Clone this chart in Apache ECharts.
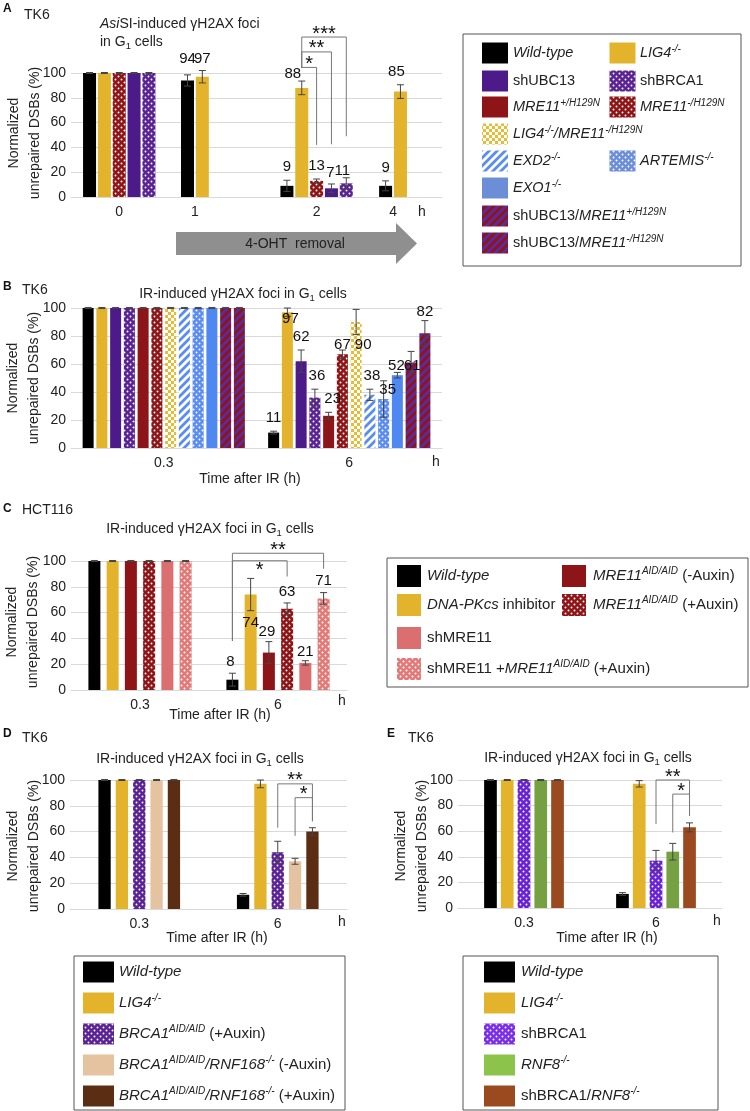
<!DOCTYPE html>
<html><head><meta charset="utf-8">
<script src="https://cdn.jsdelivr.net/npm/echarts@6/dist/echarts.min.js"></script>
<style>html,body{margin:0;padding:0;background:#fff}#c{width:750px;height:1111px}</style>
</head><body><div id="c"></div>
<script>
// ================= DATA =================
// Panel A (TK6, AsiSI)
const aTimeLabels = ['0', '1', '2', '4'];
const aGroupKeys = [
  ['wt', 'lig4', 'mreMinusDot', 'ubc13', 'brca1Dot'],
  ['wt', 'lig4'],
  ['wt', 'lig4', 'mreMinusDot', 'ubc13', 'brca1Dot'],
  ['wt', 'lig4']
];
const aValues = [[100, 100, 100, 100, 100], [94, 97], [9, 88, 13, 7, 11], [9, 85]];
const aErrors = [[0.4, 0.4, 0.4, 0.4, 0.4], [4.5, 5], [4.5, 5.5, 1.5, 3.5, 4.5], [4, 5.5]];
const aShowLabels = [false, true, true, true];

// Panel B (TK6, IR)
const bTimeLabels = ['0.3', '6'];
const bKeys = ['wt', 'lig4', 'ubc13', 'brca1Dot', 'mrePlus', 'mreMinusDot', 'lig4Mre', 'exd2', 'artemis', 'exo1', 'ubcMrePlus', 'ubcMreMinus'];
const bValues03 = [100, 100, 100, 100, 100, 100, 100, 100, 100, 100, 100, 100];
const bValues6 = [11, 97, 62, 36, 23, 67, 90, 38, 35, 52, 61, 82];
const bErrors03 = [0.4, 0.4, 0.4, 0.4, 0.4, 0.4, 0.4, 0.4, 0.4, 0.4, 0.4, 0.4];
const bErrors6 = [1, 3, 8, 6, 2.5, 3, 9, 4, 13, 2, 8, 9];

// Panel C (HCT116, IR)
const cTimeLabels = ['0.3', '6'];
const cKeys = ['wt', 'dnapk', 'mreAidMinus', 'mreAidPlus', 'shMre', 'shMreAid'];
const cValues03 = [100, 100, 100, 100, 100, 100];
const cValues6 = [8, 74, 29, 63, 21, 71];
const cErrors03 = [0.4, 0.4, 0.4, 0.4, 0.4, 0.4];
const cErrors6 = [5, 12.5, 8.5, 4.5, 1.7, 4.5];

// Panel D (TK6, IR)
const dTimeLabels = ['0.3', '6'];
const dKeys = ['wt', 'lig4', 'brca1Aid', 'brcaRnfMinus', 'brcaRnfPlus'];
const dValues03 = [100, 100, 100, 100, 100];
const dValues6 = [11, 97, 44, 37, 60];
const dErrors03 = [0.4, 0.4, 0.4, 0.4, 0.4];
const dErrors6 = [1, 3, 8.5, 2.3, 3];

// Panel E (TK6, IR)
const eTimeLabels = ['0.3', '6'];
const eKeys = ['wt', 'lig4', 'shBrca1E', 'rnf8', 'shBrcaRnf8'];
const eValues03 = [100, 100, 100, 100, 100];
const eValues6 = [11, 97, 37, 44, 63];
const eErrors03 = [0.4, 0.4, 0.4, 0.4, 0.4];
const eErrors6 = [1, 2.5, 8, 6.5, 3.5];

// significance brackets (group, bar indices, y values in %)
const aBrackets = [
  { g: 2, from: 1, to: 4, top: 129, fromY: 104, toY: 49, star: '***' },
  { g: 2, from: 1, to: 3, top: 117, fromY: 104, toY: 42.5, star: '**' },
  { g: 2, from: 1, to: 2, top: 104.5, fromY: 104, toY: 42, star: '*' }
];
const cBrackets = [
  { g: 1, from: 0, to: 5, top: 106, fromY: 38, toY: 94, star: '**' },
  { g: 1, from: 0, to: 3, top: 100.2, fromY: 38, toY: 88, star: '*', below: true }
];
const dBrackets = [
  { g: 1, from: 2, to: 4, top: 97, fromY: 63, toY: 68, star: '**' },
  { g: 1, from: 3, to: 4, top: 86.3, fromY: 56.7, toY: 68, star: '*' }
];
const eBrackets = [
  { g: 1, from: 2, to: 4, top: 100, fromY: 65.6, toY: 72, star: '**' },
  { g: 1, from: 3, to: 4, top: 89, fromY: 59, toY: 72, star: '*' }
];

// ================= STYLE / LAYOUT =================
const F = '"Liberation Sans", Arial, Helvetica, sans-serif';

function pat(bg, fg, type) {
  const c = document.createElement('canvas');
  const g = c.getContext('2d');
  let s;
  if (type === 'dot') {
    s = 6; c.width = c.height = s;
    g.fillStyle = bg; g.fillRect(0, 0, s, s);
    g.fillStyle = fg;
    [[1.5, 1.5], [4.5, 4.5]].forEach(p => { g.beginPath(); g.arc(p[0], p[1], 0.95, 0, Math.PI * 2); g.fill(); });
  } else if (type === 'check') {
    s = 6; c.width = c.height = s;
    g.fillStyle = bg; g.fillRect(0, 0, s, s);
    g.fillStyle = fg; g.fillRect(0, 0, 3, 3); g.fillRect(3, 3, 3, 3);
  } else {
    s = 8; c.width = c.height = s;
    g.fillStyle = bg; g.fillRect(0, 0, s, s);
    g.strokeStyle = fg; g.lineWidth = 2.8;
    [0, s, 2 * s].forEach(k => { g.beginPath(); g.moveTo(-1, k + 1); g.lineTo(k + 1, -1); g.stroke(); });
  }
  return { image: c, repeat: 'repeat' };
}

const fills = {
  wt: '#000000',
  lig4: '#E3B42B',
  ubc13: '#4D1A8A',
  brca1Dot: pat('#5A2293', '#ffffff', 'dot'),
  mrePlus: '#8E1517',
  mreMinusDot: pat('#8E1517', '#ffffff', 'dot'),
  lig4Mre: pat('#ffffff', '#E8BB35', 'check'),
  exd2: pat('#ffffff', '#5B8DF0', 'stripe'),
  artemis: pat('#5B8DF0', '#ffffff', 'dot'),
  exo1: '#5088F2',
  ubcMrePlus: pat('#8E1517', '#5A2AA0', 'stripe'),
  ubcMreMinus: pat('#5A2AA0', '#8E1517', 'stripe'),
  dnapk: '#E3B42B',
  mreAidMinus: '#8E1517',
  mreAidPlus: pat('#8E1517', '#ffffff', 'dot'),
  shMre: '#DB6E6E',
  shMreAid: pat('#E07A78', '#ffffff', 'dot'),
  brca1Aid: pat('#5A2293', '#ffffff', 'dot'),
  brcaRnfMinus: '#E6C3A0',
  brcaRnfPlus: '#5B2E14',
  shBrca1E: pat('#6A22D0', '#ffffff', 'dot'),
  rnf8: '#76A142',
  shBrcaRnf8: '#9A4A1E'
};
const legendFillOverride = { exo1: '#6B8ED6', artemis: pat('#6B8ED6', '#ffffff', 'dot'), rnf8: '#8CC34A', shBrca1E: pat('#7A2EE6', '#ffffff', 'dot') };

const grids = [
  { left: 71, top: 73, width: 371, height: 124 },
  { left: 71, top: 308, width: 371, height: 140 },
  { left: 71, top: 561, width: 276, height: 129 },
  { left: 70, top: 780, width: 277, height: 129 },
  { left: 458, top: 780, width: 264, height: 128 }
];
const A_CENTERS = [3.25, 8.35, 16.55, 21.7];   // group centres on A's x scale (unit = one bar step)
const A_XMAX = 25;
const barGeom = [
  { bw: 13 },
  { bw: 11, gap: 0.25 },
  { bw: 12, gap: 0.52 },
  { bw: 12.3, gap: 0.41 },
  { bw: 12.7, gap: 0.32 }
];
// label nudges (px), label gap above error bar top (px)
const aNudge = [[], [[0, -3], [0, 1]], [[0, 0], [-9, 6], [0, 0], [-1, 2], [-4, 6]], [[0, 0], [-4, 0]]];
const bNudge = [[0, 0], [3, 24], [0, 0], [2, 0], [4, 0], [0, 8], [7, 48], [2, 0], [4, 22], [-1, 6], [1, 27], [0, 4]];
const cNudge = [[-2, 0], [0, 55], [-2, 1], [0, 0], [0, 2], [0, -1]];
const LABEL_GAP = [13, 13, 11, 13, 13];

function richSet(fs, ss) {
  return {
    n: { fontFamily: F, fontSize: fs, fill: '#222', lineHeight: fs + 4 },
    i: { fontFamily: F, fontSize: fs, fill: '#222', fontStyle: 'italic', lineHeight: fs + 4 },
    s: { fontFamily: F, fontSize: ss, fill: '#222', fontStyle: 'italic', verticalAlign: 'top', lineHeight: ss + 2 },
    sub: { fontFamily: F, fontSize: ss, fill: '#222', verticalAlign: 'bottom', lineHeight: ss + 2 },
    b: { fontFamily: F, fontSize: 12, fill: '#111', fontWeight: 'bold', lineHeight: 14 }
  };
}
const RICH = richSet(14, 9.5);
const RICH_L = richSet(15, 10);

// ================= BUILD =================
const series = [];
const xAxes = [], yAxes = [];

grids.forEach((g, p) => {
  yAxes.push({
    type: 'value', gridIndex: p, min: 0, max: 100, interval: 20,
    axisLine: { show: false }, axisTick: { show: false },
    axisLabel: { fontSize: 14, color: '#222', margin: 5, fontFamily: F },
    splitLine: { show: true, lineStyle: { color: '#d9d9d9', width: 1 } }
  });
});

// A axes
xAxes.push({
  type: 'value', gridIndex: 0, min: 0, max: A_XMAX,
  axisLine: { show: true, onZero: false, lineStyle: { color: '#d9d9d9' } },
  axisTick: { show: false }, splitLine: { show: false },
  axisLabel: {
    customValues: A_CENTERS, fontSize: 14, color: '#222', margin: 8, fontFamily: F,
    formatter: v => { const i = A_CENTERS.findIndex(c => Math.abs(c - v) < 1e-6); return i >= 0 ? aTimeLabels[i] : ''; }
  }
});
[bTimeLabels, cTimeLabels, dTimeLabels, eTimeLabels].forEach((cats, k) => {
  xAxes.push({
    type: 'category', gridIndex: k + 1, data: cats,
    axisLine: { show: true, lineStyle: { color: '#d9d9d9' } },
    axisTick: { show: false }, splitLine: { show: false },
    axisLabel: { fontSize: 14, color: '#222', margin: 8, interval: 0, fontFamily: F }
  });
});

// A bars (value x axis)
const aItems = [];
aGroupKeys.forEach((keys, g) => {
  const n = keys.length;
  keys.forEach((k, i) => {
    const nd = (aNudge[g] && aNudge[g][i]) || [0, 0];
    aItems.push({ g, i, key: k, xv: A_CENTERS[g] + (i - (n - 1) / 2), off: 0,
      y: aValues[g][i], err: aErrors[g][i], label: aShowLabels[g] ? String(aValues[g][i]) : null, dx: nd[0], dy: nd[1] });
  });
});
series.push({
  type: 'bar', xAxisIndex: 0, yAxisIndex: 0, barWidth: barGeom[0].bw, silent: true,
  data: aItems.map(it => ({ value: [it.xv, it.y], itemStyle: { color: fills[it.key] } }))
});

// category panels
const catPanels = [
  { p: 1, keys: bKeys, vals: [bValues03, bValues6], errs: [bErrors03, bErrors6], labels: true, nudge: bNudge },
  { p: 2, keys: cKeys, vals: [cValues03, cValues6], errs: [cErrors03, cErrors6], labels: true, nudge: cNudge },
  { p: 3, keys: dKeys, vals: [dValues03, dValues6], errs: [dErrors03, dErrors6], labels: false },
  { p: 4, keys: eKeys, vals: [eValues03, eValues6], errs: [eErrors03, eErrors6], labels: false }
];
const panelItems = { 0: aItems };
catPanels.forEach(cp => {
  const gm = barGeom[cp.p];
  const n = cp.keys.length;
  const step = gm.bw * (1 + gm.gap);
  cp.keys.forEach((k, i) => {
    series.push({
      type: 'bar', xAxisIndex: cp.p, yAxisIndex: cp.p, barWidth: gm.bw, barGap: (gm.gap * 100) + '%',
      silent: true, itemStyle: { color: fills[k] }, data: [cp.vals[0][i], cp.vals[1][i]]
    });
  });
  const items = [];
  [0, 1].forEach(g => {
    cp.keys.forEach((k, i) => {
      const nd = (g === 1 && cp.nudge) ? cp.nudge[i] : [0, 0];
      items.push({ g, i, key: k, xv: g, off: (i - (n - 1) / 2) * step, y: cp.vals[g][i], err: cp.errs[g][i],
        label: (cp.labels && g === 1) ? String(cp.vals[g][i]) : null, dx: nd[0], dy: nd[1] });
    });
  });
  panelItems[cp.p] = items;
});

// error bars + value labels
Object.keys(panelItems).forEach(pk => {
  const p = +pk, items = panelItems[p];
  series.push({
    type: 'custom', xAxisIndex: p, yAxisIndex: p, silent: true, z: 10, clip: false,
    data: items.map(it => [it.xv, it.y]),
    renderItem: (params, api) => {
      const it = items[params.dataIndex];
      const x = api.coord([it.xv, it.y])[0] + it.off;
      const yT = api.coord([it.xv, it.y + it.err])[1];
      const yB = api.coord([it.xv, Math.max(0, it.y - it.err)])[1];
      const ls = { stroke: '#444', lineWidth: 1 };
      const ch = [
        { type: 'line', shape: { x1: x, y1: yT, x2: x, y2: yB }, style: ls },
        { type: 'line', shape: { x1: x - 3.5, y1: yT, x2: x + 3.5, y2: yT }, style: ls },
        { type: 'line', shape: { x1: x - 3.5, y1: yB, x2: x + 3.5, y2: yB }, style: ls }
      ];
      if (it.label) ch.push({ type: 'text', x: x + it.dx, y: yT - LABEL_GAP[p] + it.dy,
        style: { text: it.label, fontFamily: F, fontSize: 15, fill: '#111', align: 'center', verticalAlign: 'middle' } });
      return { type: 'group', children: ch };
    }
  });
});

// brackets
function barPx(api, p, g, i) {
  const it = panelItems[p].find(o => o.g === g && o.i === i);
  return { x: api.coord([it.xv, 0])[0] + it.off, xv: it.xv };
}
[[0, aBrackets], [2, cBrackets], [3, dBrackets], [4, eBrackets]].forEach(([p, list]) => {
  series.push({
    type: 'custom', xAxisIndex: p, yAxisIndex: p, silent: true, z: 12, clip: false,
    data: list.map(b => [b.g, b.fromY]),
    renderItem: (params, api) => {
      const b = list[params.dataIndex];
      const L = barPx(api, p, b.g, b.from), R = barPx(api, p, b.g, b.to);
      const yv = v => api.coord([L.xv, v])[1];
      const yT = yv(b.top);
      const ls = { stroke: '#777', lineWidth: 1, fill: null };
      return { type: 'group', children: [
        { type: 'polyline', shape: { points: [[L.x, yv(b.fromY)], [L.x, yT], [R.x, yT], [R.x, yv(b.toY)]] }, style: ls },
        { type: 'text', x: (L.x + R.x) / 2 + (b.dx || 0), y: b.below ? yT + 0 : yT - 13,
          style: { text: b.star, fontFamily: F, fontSize: 20, fill: '#111', align: 'center', verticalAlign: 'top' } }
      ] };
    }
  });
});

// ================= TEXT / LEGENDS =================
const graphics = [];
function txt(x, y, text, o) {
  o = o || {};
  graphics.push({ type: 'text', x, y, rotation: o.rot || 0, silent: true, z: 100,
    style: Object.assign({ text, fontFamily: F, fontSize: 14, fill: '#222', align: o.align || 'left', verticalAlign: 'middle', rich: o.rich || RICH }, o.style || {}) });
}
const TITLE_IR = '{n|IR-induced γH2AX foci in G}{sub|1}{n| cells}';
// panel letters and cell lines
txt(3, 9, '{b|A}'); txt(24, 15, 'TK6');
txt(3, 287, '{b|B}'); txt(22, 290, 'TK6');
txt(3, 509, '{b|C}'); txt(22, 510, 'HCT116');
txt(3, 734, '{b|D}'); txt(22, 738, 'TK6');
txt(387, 734, '{b|E}'); txt(408, 738, 'TK6');
// titles
txt(100, 24, '{i|Asi}{n|SI-induced γH2AX foci}');
txt(100, 42, '{n|in G}{sub|1}{n| cells}');
txt(243, 294, TITLE_IR, { align: 'center' });
txt(210, 529, TITLE_IR, { align: 'center' });
txt(200, 759, TITLE_IR, { align: 'center' });
txt(588, 758, TITLE_IR, { align: 'center' });
// y-axis names
[[25, 133], [24, 378], [23, 622], [24, 846], [412, 846]].forEach(([x, y]) => {
  txt(x, y, 'Normalized\nunrepaired DSBs (%)', { rot: Math.PI / 2, align: 'center', style: { lineHeight: 21 } });
});
// "h" units and x-axis titles
[[422, 212], [436, 462], [342, 701], [342, 922], [717, 921]].forEach(([x, y]) => txt(x, y, 'h', { align: 'center' }));
[[250, 479], [220, 715], [217, 938], [607, 938]].forEach(([x, y]) => txt(x, y, 'Time after IR (h)', { align: 'center' }));

// 4-OHT removal arrow
graphics.push({ type: 'polygon', silent: true, z: 5,
  shape: { points: [[176, 232], [396, 232], [396, 223], [417, 243.5], [396, 264], [396, 255], [176, 255]] },
  style: { fill: '#8f8f8f' } });
txt(295, 244, '4-OHT  removal', { align: 'center' });

function legend(box, swW, swH, rows, entries, rich) {
  graphics.push({ type: 'rect', silent: true, z: 90, shape: { x: box[0], y: box[1], width: box[2], height: box[3] },
    style: { fill: null, stroke: '#555', lineWidth: 1 } });
  entries.forEach(e => {
    const y = rows[e.row];
    graphics.push({ type: 'rect', silent: true, z: 95, shape: { x: e.sx, y: y - swH / 2, width: swW, height: swH },
      style: { fill: legendFillOverride[e.key] || fills[e.key] } });
    txt(e.tx, y, e.text, { rich });
  });
}
// A legend
(function () {
  const c1 = { sx: 482, tx: 513 }, c2 = { sx: 609.5, tx: 640 };
  const E = (c, row, key, text) => ({ sx: c.sx, tx: c.tx, row, key, text });
  legend([463, 34, 278, 232], 26, 21, [53, 81, 107, 134, 161, 188, 216, 243], [
    E(c1, 0, 'wt', '{i|Wild-type}'), E(c2, 0, 'lig4', '{i|LIG4}{s|-/-}'),
    E(c1, 1, 'ubc13', '{n|shUBC13}'), E(c2, 1, 'brca1Dot', '{n|shBRCA1}'),
    E(c1, 2, 'mrePlus', '{i|MRE11}{s|+/H129N}'), E(c2, 2, 'mreMinusDot', '{i|MRE11}{s|-/H129N}'),
    E(c1, 3, 'lig4Mre', '{i|LIG4}{s|-/-}{i|/MRE11}{s|-/H129N}'),
    E(c1, 4, 'exd2', '{i|EXD2}{s|-/-}'), E(c2, 4, 'artemis', '{i|ARTEMIS}{s|-/-}'),
    E(c1, 5, 'exo1', '{i|EXO1}{s|-/-}'),
    E(c1, 6, 'ubcMrePlus', '{n|shUBC13/}{i|MRE11}{s|+/H129N}'),
    E(c1, 7, 'ubcMreMinus', '{n|shUBC13/}{i|MRE11}{s|-/H129N}')
  ], richSet(14.5, 10));
})();
// C legend
(function () {
  const c1 = { sx: 397, tx: 427 }, c2 = { sx: 562, tx: 593 };
  const E = (c, row, key, text) => ({ sx: c.sx, tx: c.tx, row, key, text });
  legend([387, 558, 361, 129], 24, 22, [576, 605, 638, 669], [
    E(c1, 0, 'wt', '{i|Wild-type}'), E(c2, 0, 'mreAidMinus', '{i|MRE11}{s|AID/AID}{n| (-Auxin)}'),
    E(c1, 1, 'dnapk', '{i|DNA-PKcs}{n| inhibitor}'), E(c2, 1, 'mreAidPlus', '{i|MRE11}{s|AID/AID}{n| (+Auxin)}'),
    E(c1, 2, 'shMre', '{n|shMRE11}'),
    E(c1, 3, 'shMreAid', '{n|shMRE11 +}{i|MRE11}{s|AID/AID}{n| (+Auxin)}')
  ], RICH_L);
})();
// D legend
(function () {
  const c1 = { sx: 83, tx: 119 };
  const E = (row, key, text) => ({ sx: c1.sx, tx: c1.tx, row, key, text });
  legend([74, 956, 271, 154], 31, 21, [972, 1003, 1034, 1065, 1096], [
    E(0, 'wt', '{i|Wild-type}'), E(1, 'lig4', '{i|LIG4}{s|-/-}'),
    E(2, 'brca1Aid', '{i|BRCA1}{s|AID/AID}{n| (+Auxin)}'),
    E(3, 'brcaRnfMinus', '{i|BRCA1}{s|AID/AID}{i|/RNF168}{s|-/-}{n| (-Auxin)}'),
    E(4, 'brcaRnfPlus', '{i|BRCA1}{s|AID/AID}{i|/RNF168}{s|-/-}{n| (+Auxin)}')
  ], RICH_L);
})();
// E legend
(function () {
  const c1 = { sx: 484, tx: 521 };
  const E = (row, key, text) => ({ sx: c1.sx, tx: c1.tx, row, key, text });
  legend([463, 956, 255, 154], 31, 21, [972, 1003, 1034, 1065, 1096], [
    E(0, 'wt', '{i|Wild-type}'), E(1, 'lig4', '{i|LIG4}{s|-/-}'),
    E(2, 'shBrca1E', '{n|shBRCA1}'), E(3, 'rnf8', '{i|RNF8}{s|-/-}'),
    E(4, 'shBrcaRnf8', '{n|shBRCA1/}{i|RNF8}{s|-/-}')
  ], RICH_L);
})();

const chart = echarts.init(document.getElementById('c'), null, { renderer: 'canvas', width: 750, height: 1111 });
chart.setOption({
  animation: false,
  backgroundColor: '#ffffff',
  textStyle: { fontFamily: F },
  grid: grids.map(g => Object.assign({ containLabel: false, outerBoundsMode: 'none' }, g)),
  xAxis: xAxes,
  yAxis: yAxes,
  series,
  graphic: { elements: graphics }
});
</script>
</body></html>
